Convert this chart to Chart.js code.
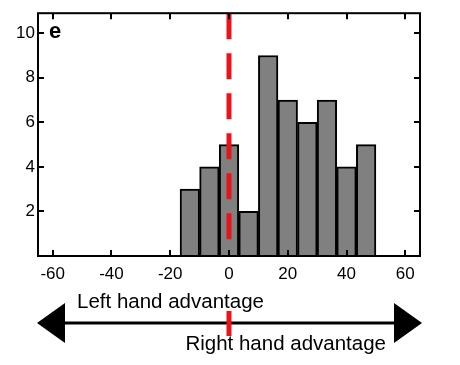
<!DOCTYPE html>
<html>
<head>
<meta charset="utf-8">
<script src="https://cdn.jsdelivr.net/npm/chart.js@4.4.1/dist/chart.umd.min.js"></script>
<style>
    html, body { margin: 0; padding: 0; background: #fff; }
    #wrap { width: 460px; height: 365px; position: relative; }
</style>
</head>
<body>
<div id="wrap"><canvas id="histChart"></canvas></div>
<script>
// data
const binCentres = [-13.33, -6.67, 0, 6.67, 13.33, 20, 26.67, 33.33, 40, 46.67];
const binCounts  = [3, 4, 5, 2, 9, 7, 6, 7, 4, 5];
const xTicks = [-60, -40, -20, 0, 20, 40, 60];
const yTicks = [2, 4, 6, 8, 10];
const xRange = [-65, 65];
const yRange = [0, 10.9];
const splitLineX = [0, 0];
const splitLineY = [10.9, 0.7];
const panelLabel = "e";
const leftLabel = "Left hand advantage";
const rightLabel = "Right hand advantage";

const FONT = "'Liberation Sans', Arial, sans-serif";

// frame, inward ticks, panel letter
const framePlugin = {
    id: 'frame',
    afterDatasetsDraw(chart) {
        const { ctx, chartArea: a, scales } = chart;
        ctx.save();
        ctx.strokeStyle = '#000';
        ctx.lineWidth = 2;
        ctx.strokeRect(a.left, a.top, a.right - a.left, a.bottom - a.top);

        const len = 6;
        ctx.beginPath();
        xTicks.forEach(v => {
            const px = Math.round(scales.x.getPixelForValue(v));
            ctx.moveTo(px, a.bottom); ctx.lineTo(px, a.bottom - len);
            ctx.moveTo(px, a.top); ctx.lineTo(px, a.top + len);
        });
        yTicks.forEach(v => {
            const py = Math.round(scales.y.getPixelForValue(v));
            ctx.moveTo(a.left, py); ctx.lineTo(a.left + len, py);
            ctx.moveTo(a.right, py); ctx.lineTo(a.right - len, py);
        });
        ctx.stroke();

        ctx.fillStyle = '#000';
        ctx.font = 'bold 22px ' + FONT;
        ctx.textAlign = 'left';
        ctx.textBaseline = 'alphabetic';
        ctx.fillText(panelLabel, a.left + 11, a.top + 25);
        ctx.restore();
    }
};

// double arrow under the axis
const arrowPlugin = {
    id: 'arrow',
    afterDraw(chart) {
        const { ctx, chartArea: a, scales } = chart;
        const y = a.bottom + 67;
        const left = a.left - 1, right = a.right + 2;
        const head = 28, half = 20;
        ctx.save();
        ctx.fillStyle = '#000';
        ctx.strokeStyle = '#000';
        ctx.lineWidth = 3;
        ctx.beginPath();
        ctx.moveTo(left + head, y); ctx.lineTo(right - head, y);
        ctx.stroke();
        ctx.beginPath();
        ctx.moveTo(left, y); ctx.lineTo(left + head, y - half); ctx.lineTo(left + head, y + half);
        ctx.closePath(); ctx.fill();
        ctx.beginPath();
        ctx.moveTo(right, y); ctx.lineTo(right - head, y - half); ctx.lineTo(right - head, y + half);
        ctx.closePath(); ctx.fill();

        const zx = scales.x.getPixelForValue(0);
        ctx.fillStyle = '#e8141c';
        ctx.fillRect(zx - 2.5, y - 12, 5, 25);

        ctx.fillStyle = '#000';
        ctx.font = '20.5px ' + FONT;
        ctx.textBaseline = 'alphabetic';
        ctx.textAlign = 'left';
        ctx.fillText(leftLabel, a.left + 39, a.bottom + 52);
        ctx.textAlign = 'right';
        ctx.fillText(rightLabel, a.right - 34, a.bottom + 94);
        ctx.restore();
    }
};

function buildChart() {
    const canvas = document.getElementById('histChart');
    new Chart(canvas.getContext('2d'), {
        data: {
            datasets: [
                {
                    type: 'line',
                    data: splitLineX.map((x, i) => ({ x: x, y: splitLineY[i] })),
                    borderColor: '#e8141c',
                    borderWidth: 5,
                    borderDash: [26, 14],
                    pointRadius: 0,
                    order: 0
                },
                {
                    type: 'bar',
                    data: binCentres.map((x, i) => ({ x: x, y: binCounts[i] })),
                    backgroundColor: '#808080',
                    borderColor: '#000',
                    borderWidth: 2,
                    barPercentage: 1,
                    categoryPercentage: 1,
                    order: 1
                }
            ]
        },
        options: {
            responsive: false,
            animation: false,
            layout: { padding: { top: 13, right: 40, left: 0, bottom: 0 } },
            plugins: { legend: { display: false }, tooltip: { enabled: false } },
            scales: {
                x: {
                    type: 'linear',
                    offset: false,
                    min: xRange[0], max: xRange[1],
                    grid: { display: false, drawTicks: false, offset: false },
                    border: { display: false },
                    afterBuildTicks: s => { s.ticks = xTicks.map(v => ({ value: v })); },
                    afterFit: s => { s.height = 109; },
                    ticks: { color: '#000', padding: 8, maxRotation: 0, font: { family: FONT, size: 17 } }
                },
                y: {
                    type: 'linear',
                    min: yRange[0], max: yRange[1],
                    grid: { display: false, drawTicks: false },
                    border: { display: false },
                    afterBuildTicks: s => { s.ticks = yTicks.map(v => ({ value: v })); },
                    afterFit: s => { s.width = 38; },
                    ticks: { color: '#000', padding: 3, font: { family: FONT, size: 17 } }
                }
            }
        },
        plugins: [framePlugin, arrowPlugin]
    });
}

document.addEventListener('DOMContentLoaded', () => {
    const canvas = document.getElementById('histChart');
    canvas.width = 460;
    canvas.height = 365;
    buildChart();
});
</script>
</body>
</html>
